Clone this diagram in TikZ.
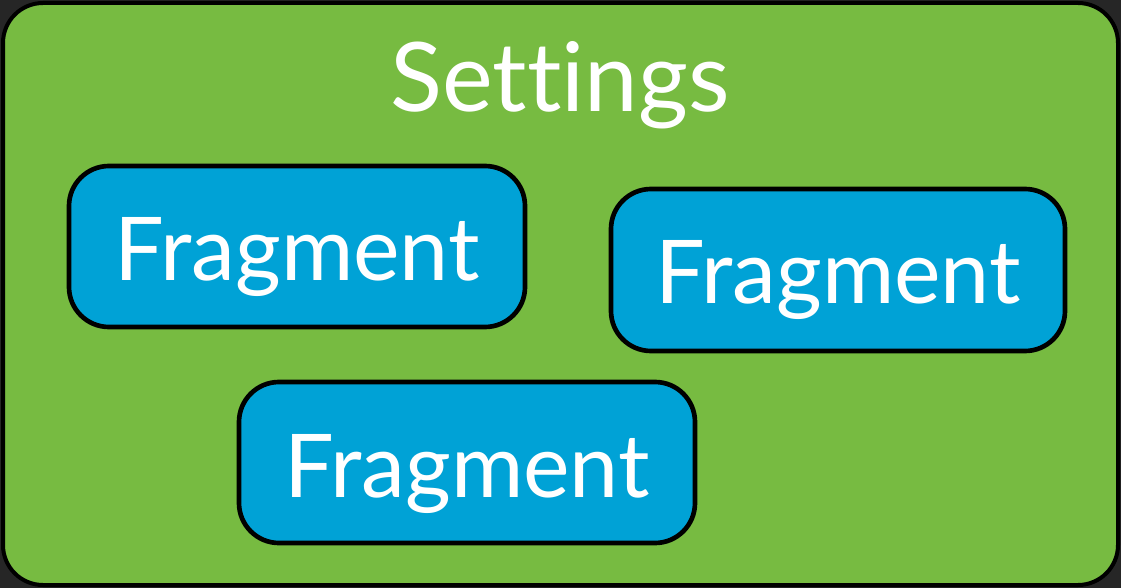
\documentclass[tikz,border=0pt]{standalone}
\usepackage{fontspec}
\setmainfont[Ligatures=NoCommon]{Lato}
\definecolor{settingsgreen}{HTML}{77BB41}
\definecolor{fragblue}{HTML}{00A2D6}
\definecolor{backdrop}{HTML}{262626}

\begin{document}
\begin{tikzpicture}[y=0.75pt, x=0.75pt, yscale=-1, inner sep=0pt, outer sep=0pt,
  fragbox/.style={draw=black, fill=fragblue, line width=3.5pt, rounded corners=30pt},
  label/.style={text=white, font=\fontsize{66}{76}\selectfont}]
\path[fill=backdrop] (0,0) rectangle (1121,588);
\useasboundingbox (0,0) rectangle (1121,588);
% outer settings panel
\path[draw=black, fill=settingsgreen, line width=3pt, rounded corners=30pt]
  (3,3) rectangle (1118,585);
\node[label, font=\fontsize{72}{80}\selectfont, anchor=base] (settings) at (560,112) {Settings};
% fragments
\path[fragbox] (69,166) rectangle (525,327);
\node[label, anchor=base] (frag1) at (297,280) {Fragment};
\path[fragbox] (611,189) rectangle (1065,351);
\node[label, anchor=base] (frag2) at (838,303) {Fragment};
\path[fragbox] (239,382) rectangle (695,543);
\node[label, anchor=base] (frag3) at (467,497) {Fragment};
\end{tikzpicture}
\end{document}
